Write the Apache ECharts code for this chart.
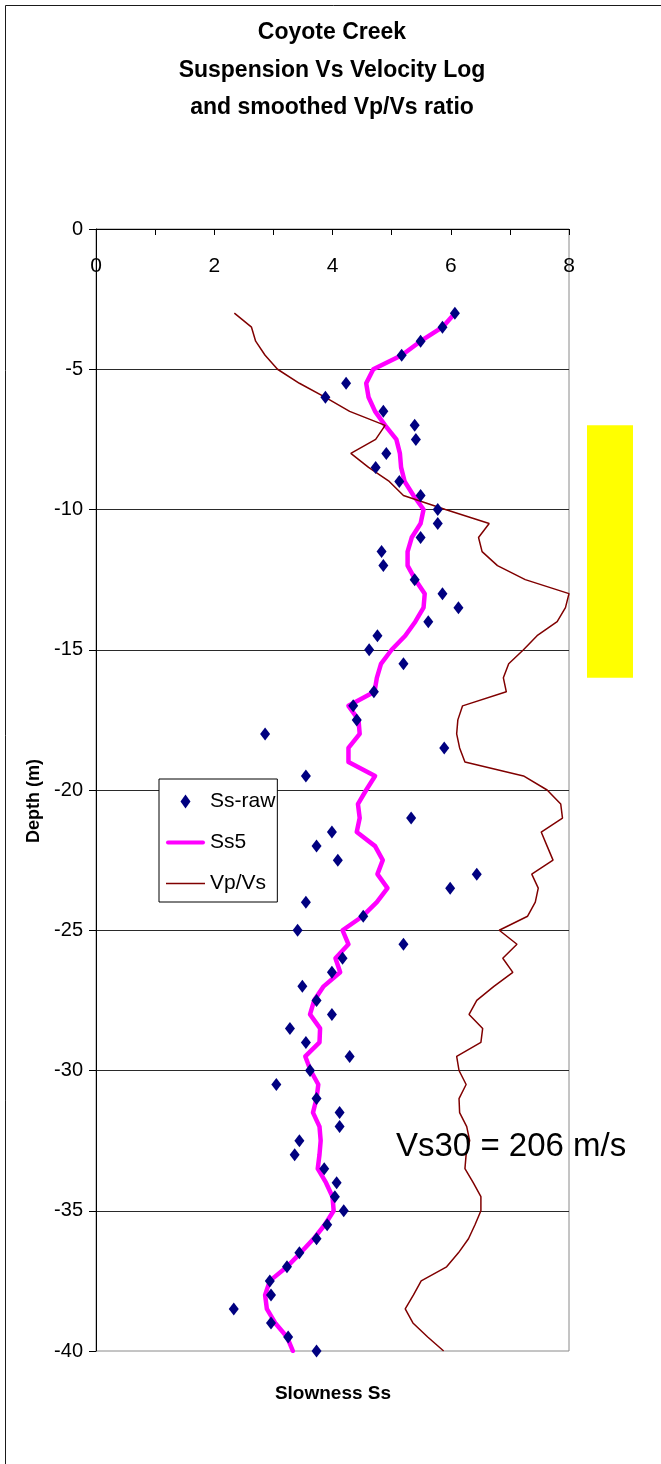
<!DOCTYPE html>
<html>
<head>
<meta charset="utf-8">
<script src="https://cdn.jsdelivr.net/npm/echarts@6.0.0/dist/echarts.min.js"></script>
<style>
  html, body { margin: 0; padding: 0; background: #fff; }
  #chart { width: 661px; height: 1464px; }
</style>
</head>
<body>
<div id="chart"></div>
<script>
// Coyote Creek suspension log: raw slowness, 5-point smoothed slowness and Vp/Vs ratio vs depth
const titleLines = ['Coyote Creek', 'Suspension Vs Velocity Log', 'and smoothed Vp/Vs ratio'];
const xAxisName = 'Slowness Ss';
const yAxisName = 'Depth (m)';
const vs30Label = 'Vs30 = 206 m/s';
const seriesNames = ['Ss-raw', 'Ss5', 'Vp/Vs'];

// depth interval highlighted by the yellow band (m)
const markedRange = [-7, -16];

// raw slowness samples
const rawDepth = [
  -3, -3.5, -4, -4.5, -5.5, -6, -6.5, -7, -7.5, -8, -8.5, -9, -9.5, -10, -10.5,
  -11, -11.5, -12, -12.5, -13, -13.5, -14, -14.5, -15, -15.5, -16.5, -17, -17.5,
  -18, -18.5, -19.5, -21, -21.5, -22, -22.5, -23, -23.5, -24, -24.5, -25, -25.5,
  -26, -26.5, -27, -27.5, -28, -28.5, -29, -29.5, -30, -30.5, -31, -31.5, -32,
  -32.5, -33, -33.5, -34, -34.5, -35, -35.5, -36, -36.5, -37, -37.5, -38, -38.5,
  -39, -39.5, -40
];
const ssRaw = [
  6.07, 5.86, 5.49, 5.17, 4.23, 3.88, 4.86, 5.39, 5.41, 4.91, 4.73, 5.13, 5.49, 5.78, 5.78,
  5.49, 4.83, 4.86, 5.39, 5.86, 6.13, 5.62, 4.76, 4.62, 5.20, 4.70, 4.35, 4.41,
  2.86, 5.89, 3.55, 5.33, 3.99, 3.73, 4.09, 6.44, 5.99, 3.55, 4.52, 3.41, 5.20,
  4.17, 3.99, 3.49, 3.73, 3.99, 3.28, 3.55, 4.29, 3.62, 3.05, 3.73, 4.12, 4.12,
  3.44, 3.36, 3.86, 4.07, 4.04, 4.19, 3.91, 3.73, 3.44, 3.23, 2.94, 2.96, 2.33,
  2.96, 3.25, 3.73
];

// depths of the smoothed curves
const smoothDepth = [
  -3, -3.5, -4, -4.5, -5, -5.5, -6, -6.5, -7, -7.5, -8, -8.5, -9, -9.5, -10,
  -10.5, -11, -11.5, -12, -12.5, -13, -13.5, -14, -14.5, -15, -15.5, -16, -16.5,
  -17, -17.5, -18, -18.5, -19, -19.5, -20, -20.5, -21, -21.5, -22, -22.5, -23,
  -23.5, -24, -24.5, -25, -25.5, -26, -26.5, -27, -27.5, -28, -28.5, -29, -29.5,
  -30, -30.5, -31, -31.5, -32, -32.5, -33, -33.5, -34, -34.5, -35, -35.5, -36,
  -36.5, -37, -37.5, -38, -38.5, -39, -39.5, -40
];
const ss5 = [
  6.07, 5.86, 5.49, 5.17, 4.69, 4.57, 4.61, 4.72, 4.89, 5.08, 5.14, 5.16, 5.22, 5.37, 5.54,
  5.49, 5.34, 5.27, 5.27, 5.40, 5.56, 5.54, 5.40, 5.23, 5.00, 4.82, 4.75, 4.71,
  4.27, 4.44, 4.46, 4.27, 4.27, 4.72, 4.57, 4.43, 4.46, 4.41, 4.72, 4.85, 4.76,
  4.93, 4.75, 4.51, 4.17, 4.27, 4.05, 4.13, 3.85, 3.69, 3.62, 3.79, 3.78, 3.54,
  3.63, 3.76, 3.73, 3.67, 3.78, 3.80, 3.78, 3.75, 3.89, 4.00, 4.02, 3.87, 3.68,
  3.46, 3.23, 2.94, 2.86, 2.89, 3.03, 3.23, 3.33
];
const vpvs = [
  2.34, 2.63, 2.70, 2.86, 3.07, 3.44, 3.88, 4.29, 4.89, 4.73, 4.31, 4.61, 4.96, 5.20, 5.91,
  6.65, 6.47, 6.53, 6.79, 7.26, 8.00, 7.94, 7.80, 7.46, 7.23, 6.98, 6.89, 6.94,
  6.20, 6.12, 6.10, 6.15, 6.24, 7.23, 7.63, 7.86, 7.89, 7.53, 7.63, 7.73, 7.37,
  7.48, 7.43, 7.30, 6.82, 7.12, 6.88, 7.05, 6.73, 6.44, 6.31, 6.54, 6.51, 6.10,
  6.14, 6.26, 6.14, 6.15, 6.27, 6.32, 6.26, 6.24, 6.38, 6.51, 6.51, 6.41, 6.30,
  6.13, 5.93, 5.50, 5.37, 5.23, 5.36, 5.61, 5.88
];

const FONT = '"Liberation Sans", Arial, Helvetica, sans-serif';
const chart = echarts.init(document.getElementById('chart'), null, { renderer: 'canvas' });

// legend glyphs: navy diamond, thick rounded magenta bar, thin brown bar
const diamondIcon = 'path://M5,0L10,7L5,14L0,7Z';
const thickLineIcon = 'path://M2,0L37,0A2,2 0 0 1 37,4L2,4A2,2 0 0 1 2,0Z';
const thinLineIcon = 'path://M0,0L39,0L39,1.5L0,1.5Z';

const option = {
  animation: false,
  backgroundColor: '#ffffff',
  title: {
    text: titleLines.join('\n'),
    left: 332,
    top: 14,
    textAlign: 'center',
    padding: 0,
    textStyle: { fontFamily: FONT, fontSize: 23, fontWeight: 'bold', lineHeight: 37.5, color: '#000' }
  },
  grid: {
    left: 96, top: 229, width: 473, height: 1122,
    show: true, borderColor: '#8a8a8a', borderWidth: 1, backgroundColor: 'transparent'
  },
  xAxis: {
    type: 'value', position: 'top', min: 0, max: 8, interval: 1,
    axisLine: { show: true, lineStyle: { color: '#000', width: 1 } },
    axisTick: { show: true, inside: true, length: 6, lineStyle: { color: '#000' } },
    axisLabel: {
      inside: true, margin: 27, fontFamily: FONT, fontSize: 21, color: '#000',
      formatter: v => (v % 2 === 0 ? String(v) : '')
    },
    splitLine: { show: false }
  },
  yAxis: {
    type: 'value', min: -40, max: 0, interval: 5,
    axisLine: { show: true, lineStyle: { color: '#000', width: 1 } },
    axisTick: { show: true, length: 7, lineStyle: { color: '#000' } },
    axisLabel: { margin: 13, fontFamily: FONT, fontSize: 20, color: '#000' },
    splitLine: { show: true, showMinLine: false, showMaxLine: false, lineStyle: { color: '#2a2a2a', width: 1 } }
  },
  legend: {
    orient: 'vertical', left: 159, top: 779,
    padding: [12, 2, 8, 7],
    itemWidth: 39, itemHeight: 14, itemGap: 20,
    symbolKeepAspect: true,
    backgroundColor: '#fff', borderColor: '#000', borderWidth: 1,
    selectedMode: false,
    textStyle: { fontFamily: FONT, fontSize: 21, lineHeight: 21, color: '#000' },
    data: [
      { name: seriesNames[0], icon: diamondIcon },
      { name: seriesNames[1], icon: thickLineIcon },
      { name: seriesNames[2], icon: thinLineIcon }
    ]
  },
  series: [
    {
      name: seriesNames[1], type: 'line', z: 2,
      data: smoothDepth.map((d, i) => [ss5[i], d]),
      symbol: 'none',
      lineStyle: { color: '#ff00ff', width: 4.5, join: 'round', cap: 'round' },
      itemStyle: { color: '#ff00ff', borderWidth: 0 }
    },
    {
      name: seriesNames[2], type: 'line', z: 3,
      data: smoothDepth.map((d, i) => [vpvs[i], d]),
      symbol: 'none',
      lineStyle: { color: '#800000', width: 1.5 },
      itemStyle: { color: '#800000', borderWidth: 0 }
    },
    {
      name: seriesNames[0], type: 'scatter', z: 4,
      data: rawDepth.map((d, i) => [ssRaw[i], d]),
      symbol: 'diamond', symbolSize: [10, 13],
      itemStyle: { color: '#000080', opacity: 1 }
    }
  ]
};

chart.setOption(option);

// annotations placed from the axis scales
const topPt = chart.convertToPixel({ gridIndex: 0 }, [8, markedRange[0]]);
const botPt = chart.convertToPixel({ gridIndex: 0 }, [8, markedRange[1]]);

chart.setOption({
  graphic: [
    {
      type: 'rect', silent: true, z: 0,
      shape: { x: 5.5, y: 5.5, width: 760, height: 1560 },
      style: { fill: 'none', stroke: '#1a1a1a', lineWidth: 1 }
    },
    {
      type: 'rect', silent: true, z: 1,
      shape: { x: topPt[0] + 18, y: topPt[1], width: 46, height: botPt[1] - topPt[1] },
      style: { fill: '#ffff00' }
    },
    {
      type: 'text', silent: true, z: 10,
      x: 34, y: 801, rotation: Math.PI / 2,
      style: {
        text: yAxisName, fontFamily: FONT, fontSize: 18, fontWeight: 'bold',
        fill: '#000', align: 'center', verticalAlign: 'middle'
      }
    },
    {
      type: 'text', silent: true, z: 10,
      x: 333, y: 1394,
      style: {
        text: xAxisName, fontFamily: FONT, fontSize: 19, fontWeight: 'bold',
        fill: '#000', align: 'center', verticalAlign: 'middle'
      }
    },
    {
      type: 'text', silent: true, z: 10,
      x: 396, y: 1147,
      style: {
        text: vs30Label, fontFamily: FONT, fontSize: 33,
        fill: '#000', align: 'left', verticalAlign: 'middle'
      }
    }
  ]
});
</script>
</body>
</html>
